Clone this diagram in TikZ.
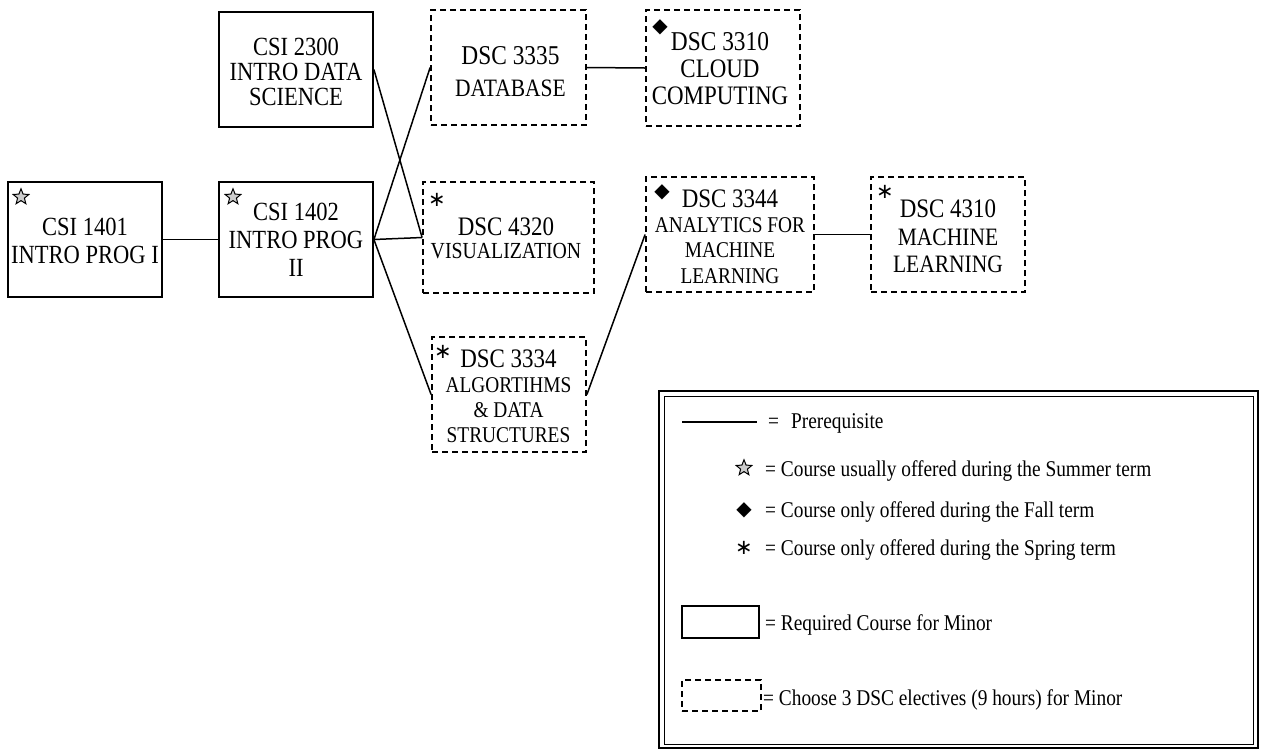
\documentclass[tikz,border=0pt]{standalone}
\usepackage{fontspec}
\usetikzlibrary{shapes.geometric}
\setmainfont{Liberation Serif}[FakeStretch=0.86]
\newfontfamily\symfont{DejaVu Sans}
\newcommand\setfs[2]{\fontsize{#1}{#2}\selectfont}
\begin{document}
\begin{tikzpicture}[x=1pt,y=-1pt,
  reqbox/.style={draw, line width=1.8pt, inner sep=0pt},
  elecbox/.style={draw, line width=1.8pt, dash pattern=on 6pt off 4pt, inner sep=0pt},
  conn/.style={line width=1.5pt},
  txt/.style={align=center, inner sep=0pt},
  starsym/.style={star, star points=5, star point ratio=2.3, draw, line width=1pt, fill=gray!40, minimum size=16.5pt, inner sep=0pt},
  dia/.style={inner sep=0pt, font=\symfont\setfs{20}{20}},
  ast/.style={inner sep=0pt, font=\symfont\setfs{21}{21}},
  legtxt/.style={anchor=base west, inner sep=0pt, font=\setfs{22.5}{24}}]
\useasboundingbox (0,0) rectangle (1265,748);
% boxes
\node[reqbox, minimum width=154pt, minimum height=115pt] (c1401) at (85,239.5) {};
\node[reqbox, minimum width=154pt, minimum height=115pt] (c1402) at (296,239.5) {};
\node[reqbox, minimum width=154pt, minimum height=115pt] (c2300) at (296,69.5) {};
\node[elecbox, minimum width=155pt, minimum height=115pt] (d3335) at (508.5,67.5) {};
\node[elecbox, minimum width=154pt, minimum height=116pt] (d3310) at (723,68) {};
\node[elecbox, minimum width=171pt, minimum height=111pt] (d4320) at (508.5,237.5) {};
\node[elecbox, minimum width=154pt, minimum height=115pt] (d3334) at (509,394.5) {};
\node[elecbox, minimum width=168pt, minimum height=115pt] (d3344) at (730,234.5) {};
\node[elecbox, minimum width=154pt, minimum height=115pt] (d4310) at (948,234.5) {};
% texts
\node[txt, font=\setfs{26.2}{28}] (t1401) at (85,241.3) {CSI 1401\\INTRO PROG I};
\node[txt, font=\setfs{26.2}{28}] (t1402) at (296,239.5) {CSI 1402\\INTRO PROG\\II};
\node[txt, font=\setfs{26.2}{25}] (t2300) at (296,72) {CSI 2300\\INTRO DATA\\SCIENCE};
\node[txt, font=\setfs{25}{32}] (t3335) at (510.5,71.2) {{\setfs{27.2}{32}DSC 3335}\\DATABASE};
\node[txt, font=\setfs{26.7}{27}] (t3310) at (720,68.3) {{\setfs{27.2}{27}DSC 3310}\\CLOUD\\COMPUTING};
\node[txt, font=\setfs{23}{23}] (t4320) at (506,238.3) {{\setfs{26.7}{23}DSC 4320}\\VISUALIZATION};
\node[txt, font=\setfs{22.5}{25}] (t3334) at (508.5,396.3) {{\setfs{26.7}{25}DSC 3334}\\ALGORTIHMS\\\&~DATA\\STRUCTURES};
\node[txt, font=\setfs{22.5}{25.3}] (t3344) at (730,236.5) {{\setfs{26.7}{25.3}DSC 3344}\\ANALYTICS FOR\\MACHINE\\LEARNING};
\node[txt, font=\setfs{25}{27.5}] (t4310) at (948,236.7) {{\setfs{26.7}{27.5}DSC 4310}\\MACHINE\\LEARNING};
% term symbols
\node[starsym] (s1401) at (21,197) {};
\node[starsym] (s1402) at (233,197) {};
\node[dia] (f3310) at (660,27) {◆};
\node[dia] (f3344) at (662,192) {◆};
\node[ast] (p4320) at (437,200) {∗};
\node[ast] (p3334) at (443,352) {∗};
\node[ast] (p4310) at (885,192) {∗};
% connectors
\draw[conn] (c1401.east) -- (c1402.west);
\draw[conn] (c1402.east) -- (d3335.west);
\draw[conn] (c1402.east) -- (d4320.west);
\draw[conn] (c1402.east) -- (d3334.west);
\draw[conn] (c2300.east) -- (d4320.west);
\draw[conn] (d3335.east) -- (d3310.west);
\draw[conn] (d3334.east) -- (d3344.west);
\draw[conn] (d3344.east) -- (d4310.west);
% legend frame
\draw[line width=2pt] (659,391) rectangle (1258,748);
\draw[line width=1pt] (664,396) rectangle (1253,744);
% legend entries
\coordinate (lgA) at (682,422);
\coordinate (lgB) at (757,422);
\draw[conn] (lgA) -- (lgB);
\node[legtxt] (l1) at (768,428.3) {=\hspace{12pt}Prerequisite};
\node[starsym] (lstar) at (744,468) {};
\node[legtxt] (l2) at (765,476.7) {= Course usually offered during the Summer term};
\node[dia] (ldia) at (744,510) {◆};
\node[legtxt] (l3) at (765,517.7) {= Course only offered during the Fall term};
\node[ast] (last) at (744,548) {∗};
\node[legtxt] (l4) at (765,555.7) {= Course only offered during the Spring term};
\node[reqbox, minimum width=77pt, minimum height=32pt] (lreq) at (720.5,622) {};
\node[legtxt] (l5) at (765,630) {= Required Course for Minor};
\node[elecbox, minimum width=79pt, minimum height=31pt] (lele) at (721.5,695.5) {};
\node[legtxt] (l6) at (763,705) {= Choose 3 DSC electives (9 hours) for Minor};
\end{tikzpicture}
\end{document}
